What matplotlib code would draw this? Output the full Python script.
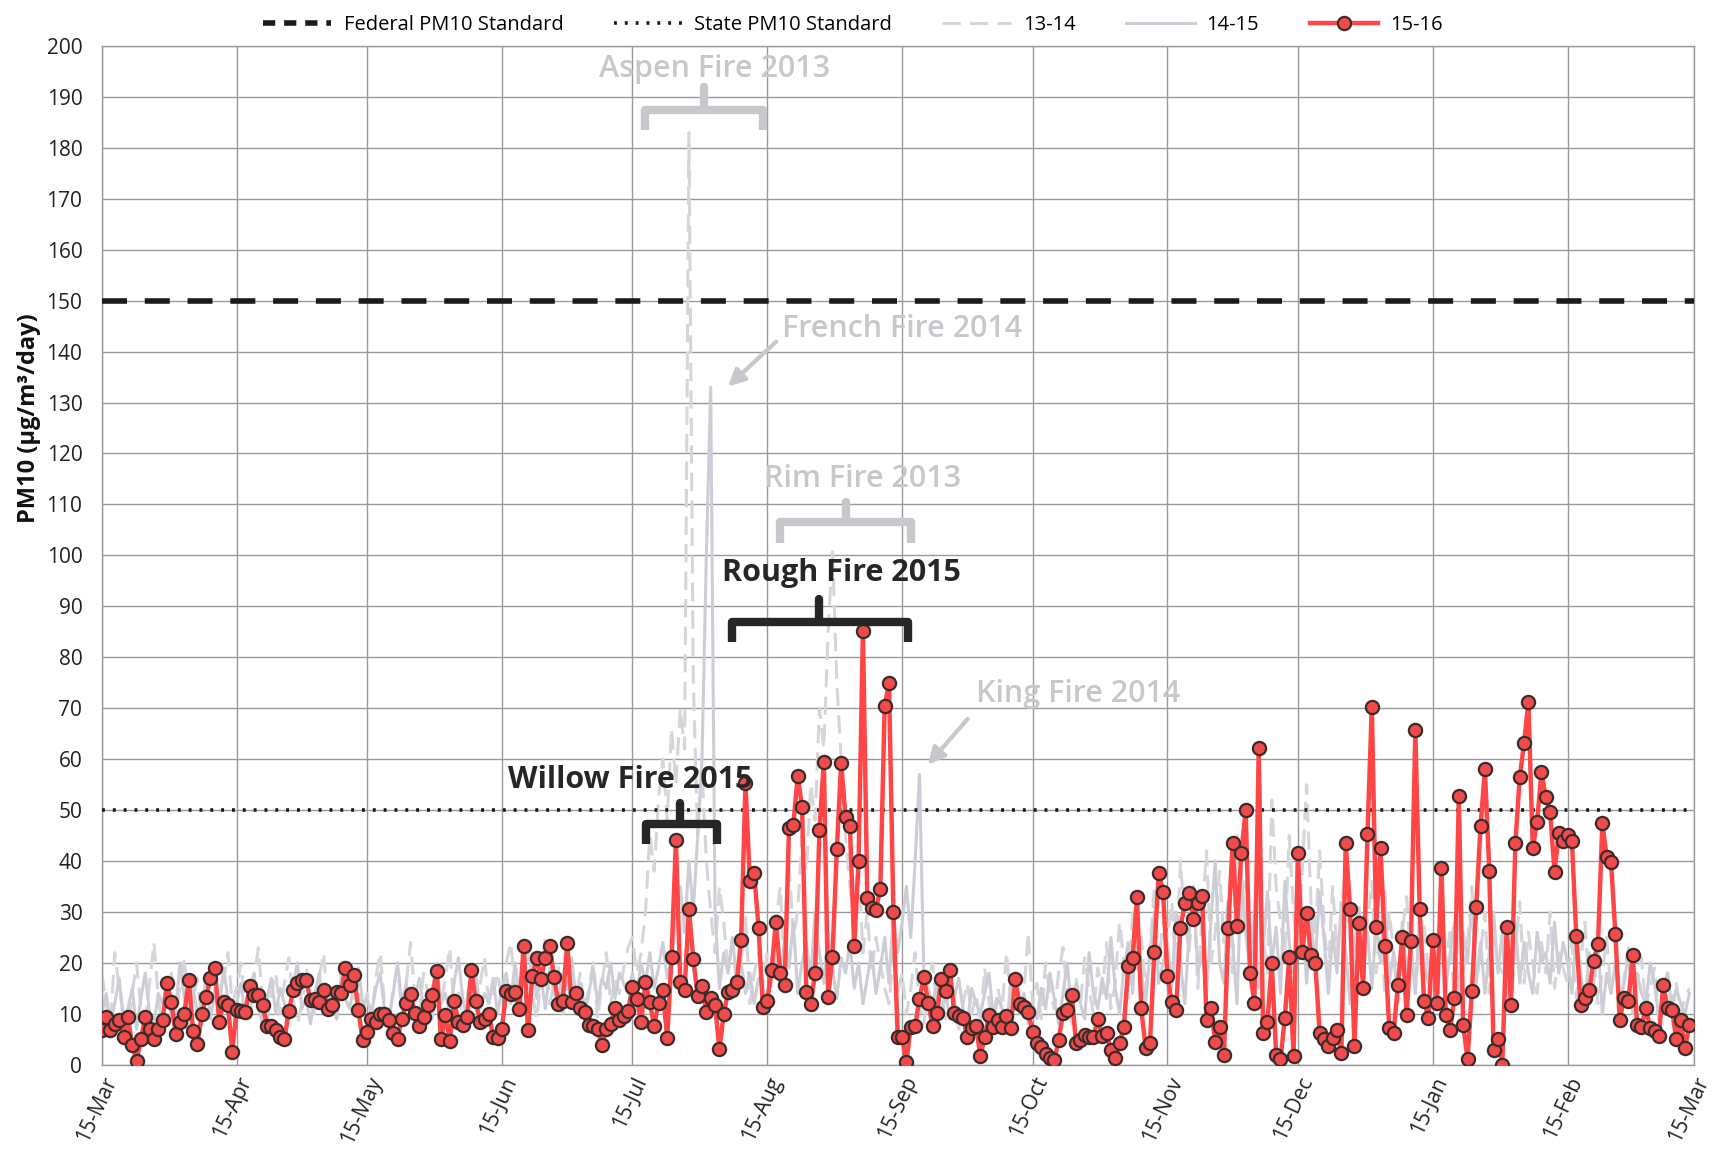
import matplotlib
matplotlib.use("Agg")
import matplotlib.pyplot as plt
import numpy as np
import pandas as pd
from matplotlib.lines import Line2D

plt.rcParams['font.family'] = ['Open Sans', 'DejaVu Sans']

start = pd.Timestamp('2015-03-15')
tick_dates = pd.date_range('2015-03-01', '2016-03-01', freq='MS') + pd.Timedelta(days=14)
tick_labels = [d.strftime('%d-%b').lstrip('0') for d in tick_dates]

federal_std = 150
state_std = 50

# 15-16 daily PM10, starting 15-Mar-2015
pm_15_16 = [
    6.8, 9.4, 6.8, 8.0, 8.7, 5.4, 9.4, 3.8, 0.7, 5.0, 9.4, 7.0, 5.0, 7.0, 8.7, 16.0,
    12.3, 6.0, 8.4, 10.0, 16.7, 6.6, 4.0, 10.0, 13.3, 17.0, 19.0, 8.4, 12.3, 11.7, 2.6,
    10.7, 10.5, 10.3, 15.4, 13.6, 13.6, 11.7, 7.7, 7.7, 6.8, 5.4, 5.0, 10.5, 14.6, 16.0,
    16.6, 16.6, 12.7, 13.0, 12.3, 14.6, 11.0, 11.8, 14.3, 14.0, 19.0, 15.6, 17.7, 10.7, 4.8,
    6.4, 9.0, 8.4, 10.0, 10.0, 8.7, 6.2, 5.1, 9.0, 12.2, 13.8, 10.2, 7.7, 9.4, 11.7, 13.6,
    18.5, 5.0, 9.8, 4.6, 12.5, 8.4, 7.9, 9.4, 18.6, 12.5, 8.4, 9.0, 10.0, 5.4, 5.2,
    7.1, 14.4, 13.8, 14.3, 11.0, 23.3, 6.8, 17.5, 20.9, 16.9, 20.9, 23.3, 17.2, 12.0, 12.5,
    23.9, 12.3, 14.0, 11.2, 10.4, 7.9, 7.7, 7.1, 3.8, 7.1, 8.0, 11.2, 8.7, 9.5, 10.5,
    15.3, 13.0, 8.4, 16.3, 12.3, 7.7, 12.2, 14.6, 5.2, 21.1, 44.1, 16.3, 14.7, 30.5, 20.8,
    13.5, 15.5, 10.4, 13.2, 11.8, 3.0, 10.0, 14.3, 14.7, 16.3, 24.5, 55.3, 36.0, 37.6, 26.8,
    11.4, 12.6, 18.6, 28.1, 18.0, 15.7, 46.4, 47.1, 56.7, 50.7, 14.3, 12.0, 18.0, 46.0, 59.5,
    13.4, 21.2, 42.3, 59.3, 48.6, 46.9, 23.3, 40.0, 85.2, 32.7, 30.7, 30.4, 34.6, 70.5, 74.9,
    29.9, 5.4, 5.4, 0.6, 7.5, 7.6, 12.9, 17.2, 12.2, 7.6, 10.1, 16.8, 14.4, 18.7, 10.1,
    9.5, 9.1, 5.5, 7.2, 7.6, 1.7, 5.5, 9.8, 7.5, 8.8, 7.5, 9.5, 7.2, 16.8, 12.0,
    11.4, 10.4, 6.5, 4.2, 3.5, 2.2, 1.3, 0.9, 4.9, 10.1, 10.8, 13.7, 4.3, 4.9, 5.8,
    5.5, 5.4, 9.0, 5.7, 6.2, 2.9, 1.3, 4.2, 7.5, 19.4, 20.9, 33.0, 11.1, 3.2, 4.3,
    22.2, 37.7, 34.0, 17.4, 12.4, 10.8, 26.8, 31.7, 33.8, 28.6, 31.7, 33.1, 8.7, 11.1, 4.5,
    7.5, 1.9, 26.8, 43.5, 27.2, 41.6, 50.0, 18.1, 12.2, 62.1, 6.2, 8.4, 20.0, 1.9, 1.1,
    9.1, 21.1, 1.7, 41.5, 22.2, 29.7, 21.5, 20.0, 6.3, 5.0, 3.6, 5.2, 6.8, 2.4, 43.6,
    30.5, 3.7, 27.8, 15.0, 45.3, 70.3, 27.1, 42.5, 23.3, 7.2, 6.3, 15.7, 25.0, 9.8, 24.2,
    65.7, 30.5, 12.6, 9.1, 24.4, 12.2, 38.7, 9.8, 6.8, 13.2, 52.8, 7.8, 1.1, 14.4, 31.0,
    46.9, 58.0, 38.1, 2.9, 5.0, 0.0, 27.1, 11.7, 43.5, 56.4, 63.2, 71.3, 42.5, 47.7, 57.5,
    52.6, 49.7, 37.9, 45.5, 44.0, 45.1, 44.0, 25.3, 11.7, 13.2, 14.7, 20.4, 23.8, 47.4, 40.8,
    39.9, 25.6, 8.7, 13.2, 12.6, 21.5, 7.8, 7.5, 11.1, 7.2, 6.7, 5.7, 15.7, 11.1, 10.8,
    5.0, 8.7, 3.2, 7.8,
]

# 13-14 season (light grey dashed)
pm_13_14 = [
    18, 12, 8, 22, 15, 10, 6, 14, 20, 11, 9, 16, 24, 13, 7, 12, 18, 10, 15, 21, 9, 13, 17, 8, 12, 19, 14, 10, 16, 22, 12,
    15, 20, 11, 8, 17, 23, 12, 9, 14, 18, 10, 16, 21, 13, 8, 12, 19, 15, 10, 17, 22, 11, 14, 9, 18, 13, 20, 12, 16, 10,
    14, 9, 17, 22, 12, 8, 15, 19, 11, 16, 24, 13, 10, 18, 14, 9, 20, 12, 17, 23, 11, 15, 8, 13, 19, 10, 16, 21, 12, 14, 18,
    13, 20, 24, 15, 11, 18, 22, 14, 9, 17, 25, 12, 16, 19, 10, 14, 21, 13, 18, 11, 15, 20, 9, 16, 22, 12, 17, 14, 19, 23,
    25, 18, 22, 30, 45, 38, 52, 60, 48, 66, 55, 70, 62, 183, 75, 45, 58, 40, 30, 22, 35, 28, 18, 25, 15, 20, 30, 12, 18, 22, 15,
    22, 15, 28, 35, 18, 40, 25, 30, 45, 38, 55, 48, 70, 62, 85, 101, 75, 60, 45, 35, 28, 40, 22, 30, 18, 25, 20, 15, 12, 22, 14,
    18, 10, 15, 22, 12, 8, 16, 20, 11, 14, 9, 18, 13, 7, 12, 16, 10, 14, 8, 19, 12, 9, 15, 11, 22, 13, 18, 10, 14, 26,
    12, 16, 9, 20, 14, 11, 18, 23, 13, 8, 17, 12, 21, 15, 10, 19, 14, 24, 11, 16, 28, 20, 13, 30, 18, 25, 15, 22, 35, 20, 28,
    25, 32, 18, 40, 28, 22, 35, 15, 30, 42, 20, 26, 38, 24, 33, 18, 45, 28, 36, 20, 30, 40, 25, 18, 52, 35, 28, 22, 45, 30,
    20, 38, 55, 32, 25, 42, 28, 18, 35, 22, 30, 40, 25, 16, 32, 20, 28, 36, 18, 25, 14, 30, 22, 17, 26, 33, 20, 15, 24, 28, 18,
    22, 15, 30, 20, 26, 12, 28, 18, 24, 35, 16, 22, 30, 14, 25, 20, 18, 28, 12, 22, 32, 16, 26, 20, 14, 24, 18, 30, 15, 22, 19,
    16, 24, 13, 20, 28, 15, 22, 12, 18, 25, 14, 20, 10, 17, 23, 12, 16, 21, 11, 15, 19, 9, 14, 18, 12, 16, 10, 13, 15,
]

# 14-15 season (light grey solid)
pm_14_15 = [
    10, 14, 8, 12, 17, 9, 11, 15, 7, 13, 18, 10, 8, 14, 12, 16, 9, 11, 20, 13, 8, 15, 10, 12, 17, 9, 14, 11, 19, 13, 10,
    12, 16, 9, 14, 18, 11, 8, 13, 17, 10, 15, 12, 9, 16, 20, 11, 13, 8, 14, 18, 10, 12, 15, 9, 17, 13, 11, 16, 19, 12,
    13, 10, 15, 18, 11, 9, 14, 20, 12, 16, 10, 13, 17, 11, 8, 15, 19, 12, 14, 10, 16, 21, 13, 9, 15, 18, 11, 14, 12, 17, 10,
    15, 18, 12, 20, 14, 10, 16, 22, 13, 17, 11, 19, 14, 12, 18, 15, 21, 13, 16, 10, 14, 19, 12, 17, 15, 20, 13, 18, 16, 14,
    18, 14, 20, 16, 22, 15, 19, 24, 17, 21, 28, 35, 26, 40, 30, 45, 60, 100, 133, 30, 15, 22, 18, 25, 16, 20, 14, 18, 12, 17, 15,
    12, 18, 22, 15, 25, 19, 28, 14, 20, 24, 17, 30, 22, 16, 26, 19, 13, 21, 18, 24, 15, 20, 12, 17, 22, 14, 19, 25, 16, 30, 22,
    28, 35, 25, 40, 57, 18, 15, 12, 16, 10, 14, 9, 13, 17, 11, 8, 15, 12, 10, 14, 18, 9, 13, 11, 7, 16, 12, 10, 14, 8,
    12, 9, 15, 11, 18, 13, 8, 14, 20, 10, 16, 12, 9, 22, 14, 11, 17, 13, 25, 15, 10, 19, 24, 14, 28, 18, 12, 22, 30, 16, 20,
    24, 15, 30, 20, 12, 26, 35, 18, 22, 14, 28, 40, 20, 16, 32, 24, 12, 38, 26, 18, 30, 15, 22, 34, 20, 27, 14, 36, 24, 18,
    22, 30, 16, 28, 20, 34, 25, 14, 26, 18, 32, 22, 12, 24, 30, 18, 26, 15, 28, 20, 34, 16, 22, 12, 28, 18, 24, 14, 30, 20, 16,
    24, 18, 30, 15, 22, 28, 12, 26, 20, 32, 16, 24, 14, 22, 30, 18, 26, 12, 20, 28, 16, 24, 18, 14, 26, 20, 22, 16, 28, 18, 24,
    20, 14, 26, 18, 12, 22, 16, 24, 10, 18, 14, 20, 12, 16, 22, 10, 18, 14, 12, 20, 16, 9, 14, 18, 11, 15, 12, 10, 14,
]

days_red = np.arange(len(pm_15_16))
days_1314 = np.arange(len(pm_13_14))
days_1415 = np.arange(len(pm_14_15))
tick_pos = [(d - start).days for d in tick_dates]

fig = plt.figure(figsize=(17.16, 11.67), dpi=100)
ax = fig.add_axes([0.0593, 0.0876, 0.9277, 0.873])

grid_c = '#9a9a9a'
ax.set_xlim(0, tick_pos[-1])
ax.set_ylim(0, 200)
ax.set_yticks(np.arange(0, 201, 10))
ax.set_xticks(tick_pos)
ax.set_xticklabels(tick_labels, rotation=65, ha='right', va='top', rotation_mode='anchor', fontsize=15, color='#222222')
ax.tick_params(axis='y', labelsize=15, labelcolor='#222222', length=0, pad=14)
ax.tick_params(axis='x', length=0, pad=6)
ax.grid(True, color=grid_c, lw=1.0)
ax.set_axisbelow(True)
for s in ax.spines.values():
    s.set_color(grid_c)
    s.set_linewidth(1.0)

ax.plot(days_1314, pm_13_14, color='#d6d6da', lw=2.2, ls=(0, (6, 3)), zorder=2)
ax.plot(days_1415, pm_14_15, color='#cdcdd6', lw=2.2, zorder=2)

ax.axhline(federal_std, color='#1a1a1a', lw=4, ls=(0, (4.5, 3.2)), zorder=3)
ax.axhline(state_std, color='#1a1a1a', lw=2.6, ls=(0, (0.8, 2.2)), zorder=3)

ax.plot(days_red, pm_15_16, color='#ff4545', lw=3.2, marker='o', ms=9.5,
        mfc='#f04a4a', mec='#3b2b2b', mew=1.6, zorder=5)

ax.set_ylabel('PM10 (µg/m³/day)', fontsize=17, fontweight='bold', color='#111111')
ax.yaxis.set_label_coords(-0.038, 0.635)


def bracket(x0, x1, y, drop, xm, rise, color, lw):
    ax.plot([x0, x0, x1, x1], [y - drop, y, y, y - drop], color=color, lw=lw,
            solid_joinstyle='round', solid_capstyle='butt', zorder=6)
    ax.plot([xm, xm], [y, y + rise], color=color, lw=lw, solid_capstyle='round', zorder=6)


light = '#c8c8cc'
bracket(125, 152, 187.5, 4, 138.5, 4.5, light, 6)
ax.text(141, 195.5, 'Aspen Fire 2013', fontsize=22, fontweight='semibold', color=light,
        ha='center', va='center', zorder=7)
bracket(156, 186, 106.5, 4, 171, 4, light, 6)
ax.text(175, 115, 'Rim Fire 2013', fontsize=22, fontweight='semibold', color=light,
        ha='center', va='center', zorder=7)
ax.text(156.5, 144.5, 'French Fire 2014', fontsize=22, fontweight='semibold', color=light,
        ha='left', va='center', zorder=7)
ax.annotate('', xy=(143.5, 132.8), xytext=(155.5, 142.3),
            arrowprops=dict(arrowstyle='-|>', color=light, lw=3, mutation_scale=25), zorder=7)
ax.text(201, 72.8, 'King Fire 2014', fontsize=22, fontweight='semibold', color=light,
        ha='left', va='center', zorder=7)
ax.annotate('', xy=(189.5, 58.5), xytext=(199.5, 68.3),
            arrowprops=dict(arrowstyle='-|>', color=light, lw=3, mutation_scale=25), zorder=7)

dark = '#262626'
bracket(145, 185.4, 87.0, 4, 164.8, 4.5, dark, 6)
ax.text(170, 96.5, 'Rough Fire 2015', fontsize=22, fontweight='bold', color=dark,
        ha='center', va='center', zorder=7)
bracket(125.2, 141.4, 47.3, 4, 133, 4, dark, 6)
ax.text(121.5, 56, 'Willow Fire 2015', fontsize=22, fontweight='bold', color=dark,
        ha='center', va='center', zorder=7)

handles = [
    Line2D([], [], color='#1a1a1a', lw=4, ls=(0, (2.2, 1.6))),
    Line2D([], [], color='#1a1a1a', lw=2.6, ls=(0, (0.8, 2.2))),
    Line2D([], [], color='#d6d6da', lw=2.2, ls=(0, (6, 3))),
    Line2D([], [], color='#cdcdd6', lw=2.2),
    Line2D([], [], color='#ff4545', lw=3.2, marker='o', ms=9.5, mfc='#f04a4a', mec='#3b2b2b', mew=1.6),
]
labels = ['Federal PM10 Standard', 'State PM10 Standard', '13-14', '14-15', '15-16']
fig.legend(handles, labels, loc='upper center', bbox_to_anchor=(0.497, 1.003), ncol=5,
           frameon=False, fontsize=14.5, handlelength=3.4, columnspacing=2.5, handletextpad=0.6)

fig.savefig('out.png', dpi=100)
